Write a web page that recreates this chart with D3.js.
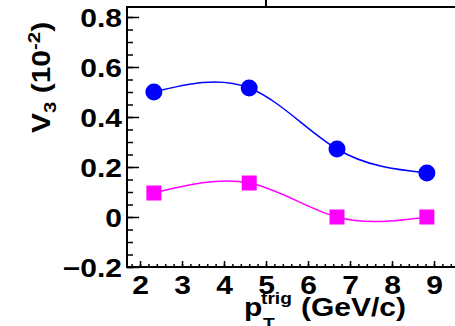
<!DOCTYPE html>
<html>
<head>
<meta charset="utf-8">
<script src="https://cdn.jsdelivr.net/npm/d3@7"></script>
<style>
  body { margin: 0; background: #fff; overflow: hidden; }
  text { font-family: "Liberation Sans", Arial, sans-serif; font-weight: bold; fill: #000; }
</style>
</head>
<body>
<svg id="drawing_region"></svg>
<script>
// values
const ptTrig = [2.33, 4.6, 6.69, 8.83];
const v3Circles = [0.50, 0.516, 0.272, 0.176];
const v3Squares = [0.096, 0.136, 0.0, 0.0];
const xTicks = [2, 3, 4, 5, 6, 7, 8, 9];
const yTicks = [-0.2, 0, 0.2, 0.4, 0.6, 0.8];

const config = {
    width: 455,
    height: 326,
    margin: {top: 7, left: 127, bottom: 59, right: 0}
};
const stretch = 1.2;

const svg = d3.select('#drawing_region')
    .attr('width', config.width)
    .attr('height', config.height);

const inner_width = config.width - config.margin.left - config.margin.right;
const inner_height = config.height - config.margin.top - config.margin.bottom;

const chart = svg.append('g')
    .attr('transform', `translate(${config.margin.left}, ${config.margin.top})`);

const xscale = d3.scaleLinear()
    .domain([1.69, 9.5])
    .range([0, inner_width]);

const yscale = d3.scaleLinear()
    .domain([-0.2, 0.84])
    .range([inner_height, 0]);

// minor ticks
const xminor = d3.range(18, 95, 2).map(d => d / 10);
const yminor = d3.range(-20, 81, 5).map(d => d / 100);

chart.append('g')
    .attr('transform', `translate(0, ${inner_height})`)
    .call(d3.axisBottom(xscale).tickValues(xminor).tickSize(-3).tickFormat(''))
    .call(g => g.select('.domain').remove())
    .selectAll('line').attr('stroke-width', 1.5);

chart.append('g')
    .call(d3.axisLeft(yscale).tickValues(yminor).tickSize(-6).tickFormat(''))
    .call(g => g.select('.domain').remove())
    .selectAll('line').attr('stroke-width', 1.5);

// major ticks + labels
const xaxis_group = chart.append('g')
    .attr('transform', `translate(0, ${inner_height})`)
    .call(d3.axisBottom(xscale).tickValues(xTicks).tickSize(-6).tickSizeOuter(0).tickFormat(d3.format('d')));
xaxis_group.select('.domain').remove();
xaxis_group.selectAll('line').attr('stroke-width', 1.5);
xaxis_group.selectAll('text')
    .attr('y', 27)
    .attr('dy', 0)
    .attr('transform', `scale(${stretch},1)`)
    .style('font-size', '25px');

const yaxis_group = chart.append('g')
    .call(d3.axisLeft(yscale).tickValues(yTicks).tickSize(-12).tickSizeOuter(0)
        .tickFormat(d => d === 0 ? '0' : d3.format('.1f')(d)));
yaxis_group.select('.domain').remove();
yaxis_group.selectAll('line').attr('stroke-width', 1.5);
yaxis_group.selectAll('text')
    .attr('x', -5 / stretch)
    .attr('dy', '0.36em')
    .attr('transform', `scale(${stretch},1)`)
    .style('font-size', '25px');

// frame
chart.append('path')
    .attr('d', `M${inner_width + 5},0 H0 V${inner_height} H${inner_width + 5}`)
    .attr('fill', 'none')
    .attr('stroke', '#000')
    .attr('stroke-width', 2);

// tick of the pad above
chart.append('line')
    .attr('x1', xscale(5)).attr('x2', xscale(5))
    .attr('y1', -config.margin.top).attr('y2', 0)
    .attr('stroke', '#000')
    .attr('stroke-width', 2);

// curves and markers
const series = [
    {values: v3Circles, color: '#0000ff', shape: 'circle'},
    {values: v3Squares, color: '#ff00ff', shape: 'square'}
];

const line = d3.line()
    .x(d => xscale(d[0]))
    .y(d => yscale(d[1]))
    .curve(d3.curveNatural);

series.forEach(s => {
    const pts = ptTrig.map((x, i) => [x, s.values[i]]);
    chart.append('path')
        .datum(pts)
        .attr('d', line)
        .attr('fill', 'none')
        .attr('stroke', s.color)
        .attr('stroke-width', 1.5);

    if (s.shape === 'circle') {
        chart.selectAll(null)
            .data(pts)
            .join('circle')
            .attr('cx', d => xscale(d[0]))
            .attr('cy', d => yscale(d[1]))
            .attr('r', 8.5)
            .attr('fill', s.color);
    } else {
        chart.selectAll(null)
            .data(pts)
            .join('rect')
            .attr('x', d => xscale(d[0]) - 7.5)
            .attr('y', d => yscale(d[1]) - 7.5)
            .attr('width', 15)
            .attr('height', 15)
            .attr('fill', s.color);
    }
});

// y title
const ytitle = svg.append('text')
    .attr('transform', `translate(50, 133) rotate(-90) scale(${stretch},1)`)
    .style('font-size', '25px');
ytitle.append('tspan').text('V');
ytitle.append('tspan').attr('dy', 6).style('font-size', '17px').text('3');
ytitle.append('tspan').attr('dy', -6).text(' (10');
ytitle.append('tspan').attr('dy', -10).style('font-size', '17px').text('-2');
ytitle.append('tspan').attr('dy', 10).text(')');

// x title
const xtitle = svg.append('g');
xtitle.append('text')
    .attr('transform', `translate(244, 316) scale(${stretch},1)`)
    .style('font-size', '25px')
    .text('p');
xtitle.append('text')
    .attr('transform', `translate(261, 304) scale(${stretch},1)`)
    .style('font-size', '16px')
    .text('trig');
xtitle.append('text')
    .attr('transform', `translate(263, 330) scale(${stretch},1)`)
    .style('font-size', '16px')
    .text('T');
xtitle.append('text')
    .attr('transform', `translate(301, 316) scale(${stretch},1)`)
    .style('font-size', '25px')
    .text('(GeV/c)');
</script>
</body>
</html>
